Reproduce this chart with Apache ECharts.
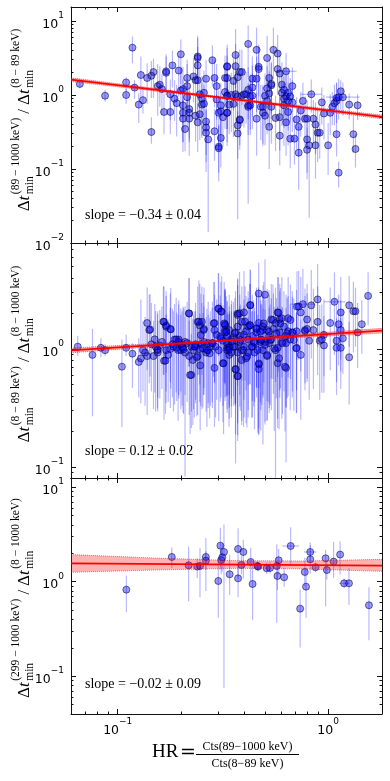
<!DOCTYPE html>
<html>
<head>
<meta charset="utf-8">
<script src="https://cdn.jsdelivr.net/npm/echarts@6/dist/echarts.min.js"></script>
<style>
html, body { margin: 0; padding: 0; background: #fff; }
#chart { width: 390px; height: 781px; }
</style>
</head>
<body>
<div id="chart"></div>
<script>
// all values are log10 of what is on the axes (both axes are logarithmic)
// rows: [log10 HR, log10 ratio, error down (dex), error up (dex), x error (dex)]
var panel1 = [
  [-1.18, 0.15, 0.06, 0.06], [-1.06, -0.01, 0.08, 0.08], [-0.96, 0.17, 0.12, 0.07], [-0.96, 0.00, 0.12, 0.08],
  [-0.93, 0.64, 0.21, 0.15], [-0.92, 0.10, 0.15, 0.10], [-0.90, -0.13, 0.25, 0.15], [-0.89, 0.27, 0.30, 0.25],
  [-0.88, -0.07, 0.18, 0.18], [-0.86, 0.23, 0.35, 0.20], [-0.84, -0.50, 0.16, 0.20], [-0.84, 0.26, 0.30, 0.20],
  [-0.83, 0.31, 0.35, 0.18], [-0.81, 0.12, 0.40, 0.30], [-0.80, 0.14, 0.30, 0.25], [-0.79, 0.08, 0.35, 0.20],
  [-0.78, -0.23, 0.30, 0.25], [-0.77, 0.30, 0.30, 0.25], [-0.77, 0.32, 0.25, 0.20], [-0.75, -0.23, 0.30, 0.25],
  [-0.74, 0.40, 0.30, 0.20], [-0.75, 0.01, 0.35, 0.20], [-0.73, -0.05, 0.30, 0.25], [-0.72, -0.11, 0.45, 0.25],
  [-0.71, 0.33, 0.35, 0.20], [-0.70, 0.55, 0.40, 0.20], [-0.69, -0.24, 0.40, 0.30], [-0.69, -0.32, 0.45, 0.25],
  [-0.69, -0.14, 0.50, 0.35], [-0.70, 0.06, 0.40, 0.30], [-0.69, 0.08, 0.35, 0.30], [-0.67, 0.12, 0.40, 0.30],
  [-0.67, 0.23, 0.50, 0.25], [-0.68, -0.46, 0.30, 0.25], [-0.67, -0.03, 0.40, 0.25], [-0.66, -0.19, 0.45, 0.30],
  [-0.66, -0.24, 0.35, 0.30], [-0.66, -0.32, 0.50, 0.30], [-0.64, 0.25, 0.35, 0.25], [-0.63, 0.20, 0.45, 0.25],
  [-0.62, 0.52, 0.30, 0.25], [-0.62, 0.50, 0.35, 0.30], [-0.62, 0.40, 0.45, 0.25], [-0.62, 0.20, 0.40, 0.30],
  [-0.63, -0.28, 0.35, 0.30], [-0.62, -0.37, 0.40, 0.25], [-0.61, -0.26, 0.35, 0.30], [-0.61, 0.01, 0.40, 0.35],
  [-0.60, -0.05, 0.50, 0.30], [-0.60, -0.13, 0.45, 0.30], [-0.59, -0.12, 0.40, 0.25], [-0.59, 0.03, 0.35, 0.30],
  [-0.58, 0.22, 0.30, 0.25], [-0.58, -0.36, 0.45, 0.30], [-0.58, -0.44, 0.60, 0.25], [-0.57, -0.60, 1.25, 0.25],
  [-0.58, -0.51, 0.40, 0.30], [-0.55, 0.47, 0.35, 0.20], [-0.54, -0.49, 0.40, 0.30], [-0.54, 0.23, 0.40, 0.25],
  [-0.53, 0.12, 0.45, 0.30], [-0.53, -0.06, 0.40, 0.30], [-0.52, -0.24, 0.50, 0.30], [-0.51, -0.22, 0.45, 0.25],
  [-0.51, -0.14, 0.40, 0.30], [-0.51, -0.58, 0.40, 0.30], [-0.52, -0.70, 0.35, 0.30], [-0.52, -0.72, 0.45, 0.30],
  [-0.50, -0.30, 0.40, 0.30], [-0.49, 0.04, 0.50, 0.30], [-0.49, 0.23, 0.40, 0.30], [-0.48, -0.01, 0.45, 0.30],
  [-0.48, 0.38, 0.40, 0.30], [-0.48, -0.24, 0.45, 0.35], [-0.47, -0.13, 0.40, 0.30],
  [-0.48, 0.39, 0.35, 0.25], [-0.48, 0.23, 0.40, 0.30], [-0.48, -0.01, 0.45, 0.30], [-0.48, -0.24, 0.40, 0.30],
  [-0.46, 0.00, 0.50, 0.30], [-0.45, -0.12, 0.45, 0.30], [-0.45, 0.19, 0.40, 0.30], [-0.44, 0.54, 0.45, 0.35],
  [-0.44, 0.01, 0.50, 0.30], [-0.44, 0.39, 0.45, 0.30], [-0.43, 0.24, 0.40, 0.30], [-0.43, -0.02, 0.45, 0.35],
  [-0.43, -0.52, 1.16, 0.30], [-0.43, -0.41, 0.45, 0.30], [-0.42, -0.34, 0.40, 0.30], [-0.42, 0.31, 0.40, 0.30],
  [-0.42, -0.33, 0.35, 0.30], [-0.41, 0.31, 0.45, 0.30], [-0.41, -0.01, 0.40, 0.30], [-0.40, 0.01, 0.45, 0.35],
  [-0.39, 0.01, 0.40, 0.30], [-0.38, 0.69, 0.45, 0.25], [-0.38, 0.07, 0.40, 0.30], [-0.38, -0.14, 0.40, 0.30],
  [-0.38, -0.16, 1.31, 0.30], [-0.37, -0.02, 0.45, 0.30], [-0.37, -0.14, 0.40, 0.35], [-0.36, -0.01, 0.45, 0.30],
  [-0.36, 0.10, 0.40, 0.30], [-0.36, 0.22, 0.40, 0.30], [-0.34, 0.22, 0.45, 0.30], [-0.34, 0.61, 0.50, 0.30],
  [-0.33, 0.38, 0.40, 0.30], [-0.34, -0.32, 0.50, 0.35], [-0.33, 0.35, 0.45, 0.30], [-0.32, -0.16, 0.45, 0.30],
  [-0.31, -0.16, 0.50, 0.30], [-0.31, -0.24, 0.45, 0.35], [-0.30, -0.28, 0.40, 0.30], [-0.30, -0.01, 0.40, 0.30],
  [-0.29, -0.08, 0.45, 0.30], [-0.29, 0.50, 0.45, 0.30], [-0.29, 0.09, 0.40, 0.30], [-0.28, -0.43, 0.57, 0.35],
  [-0.28, 0.23, 0.40, 0.30], [-0.28, 0.02, 0.45, 0.30], [-0.27, 0.15, 0.40, 0.30], [-0.27, 0.13, 0.45, 0.30],
  [-0.27, -0.16, 0.50, 0.30], [-0.26, 0.61, 0.40, 0.30], [-0.25, -0.31, 0.45, 0.30], [-0.24, 0.35, 0.35, 0.25],
  [-0.24, 0.56, 0.40, 0.25], [-0.23, 0.29, 0.45, 0.30], [-0.23, -0.55, 0.40, 0.35], [-0.23, -0.30, 0.45, 0.30],
  [-0.22, 0.14, 0.40, 0.30], [-0.22, 0.03, 0.45, 0.30], [-0.21, 0.07, 0.35, 0.30], [-0.21, -0.05, 0.40, 0.30],
  [-0.21, -0.14, 0.55, 0.30], [-0.20, 0.32, 0.30, 0.25, 0.05], [-0.20, -0.37, 0.45, 0.30], [-0.20, -0.02, 0.40, 0.30],
  [-0.19, -0.08, 0.40, 0.25], [-0.19, -0.23, 0.45, 0.30], [-0.19, 0.03, 0.35, 0.30], [-0.18, -0.59, 0.40, 0.30],
  [-0.18, -0.02, 0.35, 0.25], [-0.17, -0.10, 0.40, 0.30], [-0.17, 0.12, 0.35, 0.25], [-0.16, -0.59, 0.35, 0.30],
  [-0.15, -0.33, 0.40, 0.30], [-0.14, -0.78, 0.50, 0.35], [-0.14, -0.43, 0.40, 0.30], [-0.13, -0.21, 0.35, 0.25],
  [-0.12, -0.08, 0.30, 0.25], [-0.11, -0.32, 0.40, 0.30], [-0.10, -0.74, 0.40, 0.30], [-0.10, -0.32, 0.35, 0.25],
  [-0.10, -0.60, 0.45, 0.30], [-0.09, -0.68, 0.98, 0.35], [-0.08, 0.01, 0.25, 0.20, 0.05], [-0.07, -0.32, 0.35, 0.25],
  [-0.06, -0.40, 0.40, 0.30], [-0.06, -0.68, 0.45, 0.30], [-0.05, -0.51, 0.40, 0.30], [-0.04, -0.51, 0.35, 0.25],
  [-0.03, -0.10, 0.30, 0.20], [-0.02, -0.25, 0.35, 0.25], [0.00, -0.68, 0.40, 0.30], [0.01, -0.24, 0.30, 0.25],
  [0.02, -0.16, 0.25, 0.20], [0.03, -0.11, 0.30, 0.25], [0.04, -0.08, 0.30, 0.25], [0.04, -0.04, 0.25, 0.20],
  [0.04, -0.53, 0.30, 0.25], [0.05, -0.03, 0.30, 0.25], [0.06, 0.05, 0.25, 0.15], [0.05, -1.05, 0.20, 0.15],
  [0.07, -0.03, 0.25, 0.20, 0.08], [0.10, -0.13, 0.20, 0.15], [0.12, -0.53, 0.25, 0.25], [0.13, -0.73, 0.25, 0.20],
  [0.14, -0.14, 0.20, 0.15]
];

var panel2 = [
  [-1.19, 0.02, 0.08, 0.09], [-1.12, -0.05, 0.52, 0.22], [-1.08, 0.01, 0.08, 0.08], [-1.06, -0.01, 0.05, 0.05],
  [-0.98, -0.15, 0.51, 0.23], [-0.96, 0.01, 0.07, 0.11], [-0.93, -0.04, 0.29, 0.09], [-0.90, -0.11, 0.30, 0.20],
  [-0.89, -0.08, 0.38, 0.50], [-0.88, -0.01, 0.35, 0.25], [-0.87, -0.03, 0.45, 0.30], [-0.86, 0.22, 0.40, 0.30],
  [-0.86, -0.06, 0.50, 0.25], [-0.85, 0.16, 0.45, 0.30], [-0.84, 0.04, 0.40, 0.35], [-0.83, -0.06, 0.45, 0.30],
  [-0.82, 0.02, 0.55, 0.30], [-0.81, -0.01, 0.40, 0.25], [-0.81, -0.03, 0.50, 0.35], [-0.80, 0.03, 0.45, 0.30],
  [-0.79, 0.06, 0.40, 0.30], [-0.78, 0.23, 0.45, 0.30], [-0.78, -0.10, 0.50, 0.30], [-0.77, 0.20, 0.40, 0.25],
  [-0.77, -0.01, 0.45, 0.30], [-0.76, -0.05, 0.40, 0.30], [-0.75, 0.17, 0.45, 0.30], [-0.75, 0.00, 0.50, 0.35],
  [-0.74, 0.04, 0.45, 0.30], [-0.73, 0.08, 0.55, 0.30], [-0.72, 0.01, 0.45, 0.30], [-0.71, 0.08, 0.50, 0.30],
  [-0.71, 0.06, 0.45, 0.35], [-0.70, 0.04, 0.40, 0.30], [-0.70, -0.01, 0.50, 0.30], [-0.69, 0.01, 0.55, 0.35],
  [-0.68, -0.03, 1.05, 0.30], [-0.68, 0.06, 0.45, 0.30], [-0.67, 0.05, 0.50, 0.35], [-0.66, 0.30, 0.45, 0.30],
  [-0.66, -0.06, 0.50, 0.30], [-0.65, -0.22, 0.45, 0.35], [-0.65, 0.02, 0.55, 0.30], [-0.64, -0.01, 0.50, 0.30],
  [-0.63, 0.02, 0.45, 0.30], [-0.63, 0.04, 0.50, 0.35], [-0.62, 0.23, 0.45, 0.30], [-0.62, -0.06, 0.50, 0.30],
  [-0.61, 0.20, 0.50, 0.35], [-0.61, 0.00, 0.45, 0.30], [-0.60, 0.04, 0.55, 0.35], [-0.60, 0.23, 0.45, 0.30],
  [-0.59, 0.17, 0.50, 0.35], [-0.59, 0.06, 0.45, 0.30], [-0.58, -0.03, 0.50, 0.30], [-0.57, 0.05, 0.55, 0.35],
  [-0.57, -0.01, 0.45, 0.30], [-0.56, 0.02, 0.50, 0.30], [-0.55, 0.05, 0.55, 0.35], [-0.54, 0.22, 0.50, 0.35],
  [-0.54, 0.16, 0.45, 0.30], [-0.54, -0.16, 0.50, 0.35], [-0.53, 0.12, 0.55, 0.30], [-0.52, 0.34, 0.40, 0.30],
  [-0.52, -0.01, 0.60, 0.35], [-0.51, 0.09, 0.50, 0.30], [-0.51, 0.32, 0.45, 0.25], [-0.50, 0.07, 0.55, 0.30],
  [-0.50, -0.12, 0.50, 0.35], [-0.49, 0.21, 0.50, 0.30], [-0.49, 0.16, 0.60, 0.35], [-0.48, 0.01, 0.55, 0.30],
  [-0.48, 0.11, 0.50, 0.30], [-0.47, -0.05, 0.45, 0.35], [-0.47, 0.02, 0.50, 0.30],
  [-0.49, 0.20, 0.50, 0.30], [-0.49, 0.14, 0.55, 0.35], [-0.48, -0.01, 0.50, 0.30], [-0.48, 0.05, 0.45, 0.35],
  [-0.47, 0.16, 0.55, 0.30], [-0.47, 0.01, 0.60, 0.35], [-0.46, 0.08, 0.50, 0.30], [-0.46, -0.03, 0.55, 0.35],
  [-0.45, 0.10, 0.50, 0.30], [-0.44, 0.14, 0.60, 0.35], [-0.44, -0.17, 0.80, 0.35], [-0.44, 0.02, 0.50, 0.30],
  [-0.43, 0.30, 0.45, 0.30], [-0.43, -0.23, 0.55, 0.35], [-0.43, -0.03, 0.60, 0.30], [-0.43, 0.19, 0.50, 0.35],
  [-0.42, 0.06, 0.55, 0.30], [-0.42, 0.11, 0.50, 0.35], [-0.41, -0.01, 0.60, 0.30], [-0.41, 0.23, 0.50, 0.30],
  [-0.40, 0.31, 0.45, 0.35], [-0.40, 0.12, 0.55, 0.30], [-0.40, 0.02, 0.60, 0.35], [-0.39, 0.15, 0.50, 0.30],
  [-0.39, -0.08, 0.55, 0.35], [-0.38, 0.19, 0.50, 0.30], [-0.38, 0.08, 0.60, 0.35], [-0.38, -0.03, 0.55, 0.30],
  [-0.37, 0.20, 0.50, 0.35], [-0.37, 0.37, 0.45, 0.30], [-0.36, 0.02, 0.60, 0.30], [-0.36, 0.11, 0.55, 0.35],
  [-0.35, 0.05, 0.50, 0.30], [-0.35, -0.03, 0.65, 0.35], [-0.34, 0.14, 0.55, 0.30], [-0.34, 0.17, 0.50, 0.35],
  [-0.33, 0.47, 0.50, 0.26], [-0.33, 0.22, 0.55, 0.30], [-0.33, -0.13, 0.60, 0.35], [-0.33, -0.17, 0.55, 0.30],
  [-0.32, 0.06, 0.75, 0.35], [-0.32, 0.08, 0.60, 0.30], [-0.31, -0.01, 0.80, 0.35], [-0.31, 0.16, 0.55, 0.30],
  [-0.31, 0.19, 0.60, 0.35], [-0.30, 0.46, 0.50, 0.30], [-0.30, 0.06, 0.70, 0.35], [-0.29, -0.06, 0.55, 0.30],
  [-0.29, 0.16, 0.60, 0.35], [-0.28, 0.05, 0.55, 0.30], [-0.28, 0.11, 0.65, 0.35], [-0.27, 0.25, 0.50, 0.30],
  [-0.27, 0.08, 0.60, 0.35], [-0.26, 0.17, 0.55, 0.30], [-0.25, -0.01, 1.08, 0.35], [-0.25, 0.22, 0.50, 0.30],
  [-0.24, 0.01, 0.60, 0.35], [-0.24, 0.31, 0.55, 0.30], [-0.24, -0.12, 0.55, 0.35], [-0.23, 0.25, 0.60, 0.30],
  [-0.23, 0.14, 0.55, 0.35], [-0.22, 0.06, 0.65, 0.30], [-0.22, 0.26, 0.50, 0.35], [-0.21, 0.19, 0.55, 0.30],
  [-0.20, -0.16, 0.80, 0.30], [-0.20, 0.11, 0.60, 0.35], [-0.20, 0.05, 0.55, 0.30], [-0.19, 0.26, 0.50, 0.35],
  [-0.19, 0.15, 0.55, 0.30], [-0.18, 0.08, 0.60, 0.30], [-0.17, 0.14, 0.55, 0.35], [-0.17, 0.14, 0.50, 0.30],
  [-0.15, 0.01, 0.55, 0.30], [-0.15, 0.15, 0.50, 0.35], [-0.14, 0.36, 0.45, 0.30], [-0.13, 0.31, 0.50, 0.30],
  [-0.13, -0.05, 0.55, 0.30], [-0.12, 0.38, 0.40, 0.30, 0.06], [-0.11, 0.15, 0.50, 0.30], [-0.11, 0.16, 0.45, 0.35],
  [-0.10, 0.25, 0.50, 0.30], [-0.10, 0.17, 0.45, 0.30], [-0.09, 0.07, 0.50, 0.30], [-0.08, 0.37, 0.45, 0.30],
  [-0.07, 0.16, 0.50, 0.35], [-0.05, 0.42, 0.40, 0.30], [-0.05, 0.23, 0.45, 0.30], [-0.04, 0.07, 0.50, 0.30],
  [-0.03, 0.08, 0.45, 0.30], [-0.02, 0.03, 0.40, 0.25], [-0.02, 0.12, 0.35, 0.30], [0.01, 0.22, 0.40, 0.30],
  [0.03, 0.40, 0.45, 0.25, 0.05], [0.04, 0.07, 0.35, 0.30], [0.04, 0.01, 0.40, 0.25], [0.05, 0.21, 0.35, 0.25],
  [0.06, 0.01, 0.35, 0.25], [0.06, 0.31, 0.40, 0.30], [0.06, 0.16, 0.35, 0.25], [0.07, 0.09, 0.30, 0.25],
  [0.10, 0.37, 0.35, 0.25], [0.10, -0.07, 0.40, 0.30], [0.12, 0.32, 0.35, 0.25], [0.13, 0.32, 0.30, 0.20],
  [0.14, 0.14, 0.30, 0.25], [0.16, 0.21, 0.25, 0.20], [0.19, 0.45, 0.25, 0.20],
  // denser core, read from a closer look at 0.1 < HR < 0.7
  [-0.846, 0.166, 0.40, 0.30], [-0.824, 0.082, 0.45, 0.30], [-0.811, -0.003, 0.50, 0.30], [-0.783, 0.231, 0.45, 0.30],
  [-0.770, 0.189, 0.55, 0.30], [-0.773, -0.099, 0.45, 0.30], [-0.748, 0.166, 0.50, 0.35], [-0.735, 0.020, 0.55, 0.30],
  [-0.722, 0.082, 0.45, 0.35], [-0.713, -0.009, 0.60, 0.30], [-0.694, 0.020, 0.50, 0.30], [-0.687, -0.003, 0.55, 0.35],
  [-0.662, 0.302, 0.45, 0.30], [-0.656, -0.221, 0.50, 0.30], [-0.643, -0.093, 0.55, 0.35], [-0.636, 0.020, 0.60, 0.30],
  [-0.624, -0.071, 0.50, 0.30], [-0.614, 0.231, 0.45, 0.35], [-0.608, -0.139, 0.55, 0.30], [-0.605, 0.118, 0.60, 0.35],
  [-0.595, 0.005, 0.50, 0.30], [-0.592, 0.161, 0.55, 0.30], [-0.576, -0.009, 0.65, 0.35], [-0.563, -0.037, 0.55, 0.30],
  [-0.551, 0.048, 0.50, 0.30], [-0.544, 0.217, 0.45, 0.35], [-0.535, 0.020, 0.60, 0.30], [-0.522, 0.344, 0.40, 0.30],
  [-0.513, 0.104, 0.55, 0.35], [-0.506, 0.316, 0.45, 0.30], [-0.497, -0.122, 0.60, 0.30], [-0.494, 0.217, 0.50, 0.35],
  [-0.484, 0.147, 0.55, 0.30], [-0.471, -0.009, 0.65, 0.30], [-0.459, 0.062, 0.55, 0.35], [-0.449, 0.020, 0.50, 0.30],
  [-0.443, 0.133, 0.60, 0.30], [-0.440, -0.173, 0.55, 0.35], [-0.430, 0.288, 0.45, 0.30], [-0.430, -0.229, 0.50, 0.30],
  [-0.421, 0.302, 0.50, 0.35], [-0.417, 0.076, 0.60, 0.30], [-0.411, -0.093, 0.55, 0.30], [-0.402, -0.009, 0.65, 0.35],
  [-0.395, 0.231, 0.50, 0.30], [-0.386, -0.065, 0.60, 0.30], [-0.373, 0.203, 0.50, 0.35], [-0.370, 0.373, 0.45, 0.30],
  [-0.363, 0.020, 0.60, 0.30], [-0.354, 0.062, 0.55, 0.35], [-0.341, 0.175, 0.50, 0.30], [-0.335, -0.009, 0.70, 0.30],
  [-0.329, -0.122, 0.55, 0.35], [-0.322, 0.147, 0.60, 0.30], [-0.316, 0.076, 0.55, 0.30], [-0.306, 0.217, 0.50, 0.35],
  [-0.300, 0.034, 0.65, 0.30], [-0.290, -0.051, 0.55, 0.30], [-0.281, 0.147, 0.60, 0.35], [-0.275, 0.076, 0.55, 0.30],
  [-0.262, 0.246, 0.50, 0.30], [-0.256, 0.005, 0.70, 0.35], [-0.246, 0.133, 0.55, 0.30], [-0.236, 0.308, 0.50, 0.30],
  [-0.233, -0.079, 0.60, 0.35], [-0.227, 0.217, 0.55, 0.30], [-0.217, 0.048, 0.60, 0.30], [-0.205, -0.150, 0.55, 0.35],
  [-0.195, 0.133, 0.55, 0.30], [-0.179, 0.246, 0.50, 0.30], [-0.163, 0.076, 0.60, 0.35], [-0.148, 0.359, 0.45, 0.30],
  [-0.151, 0.005, 0.55, 0.30]
];

var panel3 = [
  [-0.959, -0.084, 0.24, 0.15], [-0.743, 0.262, 0.12, 0.10], [-0.663, 0.174, 0.38, 0.20], [-0.622, 0.160, 0.12, 0.09],
  [-0.609, 0.167, 0.33, 0.19], [-0.581, 0.262, 0.36, 0.20], [-0.581, 0.223, 0.10, 0.10], [-0.522, 0.008, 0.39, 0.24],
  [-0.512, 0.382, 0.25, 0.19], [-0.508, 0.230, 0.15, 0.10], [-0.503, 0.258, 0.15, 0.15], [-0.495, 0.315, 1.44, 0.29],
  [-0.468, 0.079, 0.22, 0.21], [-0.428, 0.347, 0.31, 0.22], [-0.428, 0.036, 0.20, 0.15], [-0.412, 0.177, 0.10, 0.10],
  [-0.403, 0.315, 0.28, 0.13], [-0.368, 0.209, 0.20, 0.15], [-0.359, -0.024, 0.38, 0.20], [-0.336, 0.167, 0.05, 0.05],
  [-0.333, 0.160, 0.05, 0.05], [-0.292, 0.142, 0.06, 0.06], [-0.276, 0.146, 0.06, 0.06], [-0.244, 0.167, 0.60, 0.23],
  [-0.241, 0.061, 0.15, 0.12], [-0.235, 0.227, 0.15, 0.12], [-0.209, 0.047, 0.10, 0.10], [-0.178, 0.378, 0.20, 0.20, 0.04],
  [-0.111, 0.103, 0.15, 0.15], [-0.105, -0.052, 0.33, 0.20], [-0.085, 0.315, 0.10, 0.10, 0.03], [-0.085, 0.237, 0.15, 0.15],
  [-0.133, -0.285, 0.41, 0.20], [-0.060, 0.153, 0.05, 0.05], [-0.012, 0.248, 0.51, 0.09], [-0.006, 0.124, 0.10, 0.10],
  [0.026, 0.213, 0.17, 0.21], [0.057, 0.287, 0.21, 0.14], [0.076, -0.017, 0.05, 0.05, 0.025], [0.099, -0.017, 0.23, 0.16],
  [0.194, -0.249, 0.37, 0.19]
];

// fitted power laws and their confidence bands (log10 units)
var fitLine1 = [[-1.222, 0.207], [0.256, -0.297]];
var fitLine2 = [[-1.222, -0.012], [0.256, 0.155]];
var fitLine3 = [[-1.222, 0.195], [0.256, 0.170]];
var bandX12 = [-1.222, -0.5, 0.256];
var band1Upper = [0.232, -0.027, -0.272];
var band1Lower = [0.182, -0.051, -0.322];
var band2Upper = [0.008, 0.078, 0.175];
var band2Lower = [-0.032, 0.062, 0.135];
var bandX3 = [-1.222, -0.825, -0.428, -0.111, 0.256];
var band3Upper = [0.287, 0.251, 0.223, 0.220, 0.237];
var band3Lower = [0.100, 0.124, 0.142, 0.135, 0.110];

var slopeTexts = ['slope = \u22120.34 \u00b1 0.04', 'slope = 0.12 \u00b1 0.02', 'slope = \u22120.02 \u00b1 0.09'];
var yNumerators = ['(89 \u2212 1000 keV)', '(8 \u2212 89 keV)', '(299 \u2212 1000 keV)'];
var yDenominators = ['(8 \u2212 89 keV)', '(8 \u2212 1000 keV)', '(8 \u2212 1000 keV)'];

var X_MIN = -1.222, X_MAX = 0.256;

var panels = [
  { top: 7, height: 236, yMin: -2, yMax: 1.189, pts: panel1, fit: fitLine1, bx: bandX12, bu: band1Upper, bl: band1Lower, slopeY: 217, titleMid: 120 },
  { top: 243, height: 235, yMin: -1.093, yMax: 0.898, pts: panel2, fit: fitLine2, bx: bandX12, bu: band2Upper, bl: band2Lower, slopeY: 453, titleMid: 354 },
  { top: 478, height: 236, yMin: -1.40, yMax: 1.098, pts: panel3, fit: fitLine3, bx: bandX3, bu: band3Upper, bl: band3Lower, slopeY: 686, titleMid: 598 }
];

var measureCtx = document.createElement('canvas').getContext('2d');
function textW(s, font) { measureCtx.font = font; return measureCtx.measureText(s).width; }
function txt(s, x, y, font) {
  return { type: 'text', x: x, y: y, silent: true,
    style: { text: s, font: font, fill: '#000', verticalAlign: 'middle', align: 'left' } };
}
function ratioTitle(sup1, sup2, cx, mid) {
  var MAIN = '17px "Liberation Serif"', MAIN_I = 'italic 17px "Liberation Serif"', SCR = '11.5px "Liberation Serif"';
  var parts = [], x = 0;
  function dt() {
    parts.push(txt('\u0394', x, 0, MAIN)); x += textW('\u0394', MAIN);
    parts.push(txt('t', x, 0, MAIN_I)); x += textW('t', MAIN_I) + 1.5;
  }
  function scripts(sup) {
    parts.push(txt(sup, x, -8.5, SCR));
    parts.push(txt('min', x, 5, SCR));
    x += Math.max(textW(sup, SCR), textW('min', SCR));
  }
  dt(); scripts(sup1);
  x += 4; parts.push(txt('/', x, 0, MAIN)); x += textW('/', MAIN) + 4;
  dt(); scripts(sup2);
  return { type: 'group', x: cx, y: mid + x / 2, rotation: Math.PI / 2, silent: true, children: parts };
}

function majorVals(lo, hi) {
  var out = [];
  for (var d = Math.ceil(lo - 1e-9); d <= hi + 1e-9; d++) out.push(d);
  return out;
}
function minorVals(lo, hi) {
  var out = [];
  for (var d = Math.floor(lo) - 1; d <= Math.ceil(hi); d++) {
    for (var k = 2; k <= 9; k++) {
      var v = d + Math.log10(k);
      if (v > lo && v < hi) out.push(v);
    }
  }
  return out;
}
function logLabel(v) {
  var n = Math.round(v);
  return '{b|10}{s|' + (n < 0 ? '\u2212' + (-n) : n) + '}';
}
var labelRich = {
  b: { fontFamily: 'DejaVu Sans', fontSize: 12.5, lineHeight: 20, verticalAlign: 'bottom', color: '#000' },
  s: { fontFamily: 'DejaVu Sans', fontSize: 9, lineHeight: 14, verticalAlign: 'top', color: '#000' }
};

function axis(kind, gi, pos, lo, hi, vals, len, major, labels) {
  return {
    type: 'value', gridIndex: gi, position: pos, min: lo, max: hi,
    axisLine: { show: major, onZero: false, lineStyle: { color: '#111', width: 1 } },
    axisTick: { show: true, inside: true, length: len, customValues: vals, lineStyle: { color: '#111', width: 1 } },
    axisLabel: labels ? { show: true, customValues: vals, formatter: logLabel, rich: labelRich,
      margin: kind === 'x' ? 3 : 7 } : { show: false },
    splitLine: { show: false }
  };
}

var grids = [], xAxes = [], yAxes = [], series = [], graphics = [];

panels.forEach(function (p, i) {
  grids.push({ left: 71, right: 8, top: p.top, height: p.height, outerBoundsMode: 'none' });
  var xMaj = majorVals(X_MIN, X_MAX), xMin = minorVals(X_MIN, X_MAX);
  var yMaj = majorVals(p.yMin, p.yMax), yMin = minorVals(p.yMin, p.yMax);
  xAxes.push(axis('x', i, 'bottom', X_MIN, X_MAX, xMaj, 5, true, i === 2));
  xAxes.push(axis('x', i, 'top', X_MIN, X_MAX, xMaj, 5, true, false));
  xAxes.push(axis('x', i, 'bottom', X_MIN, X_MAX, xMin, 2.5, false, false));
  xAxes.push(axis('x', i, 'top', X_MIN, X_MAX, xMin, 2.5, false, false));
  yAxes.push(axis('y', i, 'left', p.yMin, p.yMax, yMaj, 5, true, true));
  yAxes.push(axis('y', i, 'right', p.yMin, p.yMax, yMaj, 5, true, false));
  yAxes.push(axis('y', i, 'left', p.yMin, p.yMax, yMin, 2.5, false, false));
  yAxes.push(axis('y', i, 'right', p.yMin, p.yMax, yMin, 2.5, false, false));

  var ax = i * 4;
  var lo = p.yMin, hi = p.yMax;
  series.push({
    type: 'custom', xAxisIndex: ax, yAxisIndex: ax, clip: true, silent: true, z: 1,
    data: p.pts.map(function (r) { return [r[0], r[1], r[2], r[3], r[4] || 0]; }),
    encode: { x: 0, y: 1 },
    renderItem: function (params, api) {
      var x = api.value(0), y = api.value(1), xe = api.value(4);
      var a = api.coord([x, Math.max(lo, y - api.value(2))]);
      var b = api.coord([x, Math.min(hi, y + api.value(3))]);
      var st = { stroke: 'rgba(0,0,255,0.28)', lineWidth: 1.2 };
      var ch = [{ type: 'line', shape: { x1: a[0], y1: a[1], x2: b[0], y2: b[1] }, style: st }];
      if (xe > 0) {
        var c = api.coord([x - xe, y]), d = api.coord([x + xe, y]);
        ch.push({ type: 'line', shape: { x1: c[0], y1: c[1], x2: d[0], y2: d[1] }, style: st });
      }
      return { type: 'group', children: ch };
    }
  });
  series.push({
    type: 'scatter', xAxisIndex: ax, yAxisIndex: ax, z: 3, silent: true,
    symbol: 'circle', symbolSize: 7,
    itemStyle: { color: 'rgba(0,0,255,0.4)', borderColor: 'rgba(0,0,40,0.6)', borderWidth: 0.9, opacity: 1 },
    data: p.pts.map(function (r) { return [r[0], r[1]]; })
  });
  var bx = p.bx, bu = p.bu, bl = p.bl;
  series.push({
    type: 'custom', xAxisIndex: ax, yAxisIndex: ax, clip: true, silent: true, z: 4,
    data: [[bx[0], bu[0]]], encode: { x: 0, y: 1 },
    renderItem: function (params, api) {
      var pts = [];
      for (var k = 0; k < bx.length; k++) pts.push(api.coord([bx[k], bu[k]]));
      for (var k2 = bx.length - 1; k2 >= 0; k2--) pts.push(api.coord([bx[k2], bl[k2]]));
      return { type: 'polygon', shape: { points: pts }, style: { fill: 'rgba(255,0,0,0.3)' } };
    }
  });
  [bu, bl].forEach(function (edge) {
    series.push({
      type: 'line', xAxisIndex: ax, yAxisIndex: ax, z: 4, silent: true, symbol: 'none',
      lineStyle: { color: 'rgba(255,0,0,0.55)', width: 1, type: 'dotted' },
      data: bx.map(function (x, k) { return [x, edge[k]]; })
    });
  });
  series.push({
    type: 'line', xAxisIndex: ax, yAxisIndex: ax, z: 5, silent: true, symbol: 'none',
    lineStyle: { color: '#ff0000', width: 1.8 },
    data: p.fit
  });

  graphics.push({
    type: 'text', left: 85, top: p.slopeY - 9, silent: true,
    style: { text: slopeTexts[i], font: '14px "Liberation Serif"', fill: '#000' }
  });
  graphics.push(ratioTitle(yNumerators[i], yDenominators[i], 24.5, p.titleMid));
});

// x axis title: HR = Cts(89-1000 keV) / Cts(8-89 keV)
graphics.push({ type: 'text', x: 152, y: 752, silent: true,
  style: { text: 'HR', font: '19px "Liberation Serif"', fill: '#000', verticalAlign: 'middle' } });
graphics.push({ type: 'text', x: 180, y: 753, silent: true,
  style: { text: '=', font: '19px "DejaVu Serif"', fill: '#000', verticalAlign: 'middle' } });
graphics.push({ type: 'text', x: 247.5, y: 746.5, silent: true,
  style: { text: 'Cts(89\u22121000 keV)', font: '12px "Liberation Serif"', fill: '#000', align: 'center', verticalAlign: 'middle' } });
graphics.push({ type: 'line', silent: true, shape: { x1: 196, y1: 754.5, x2: 299, y2: 754.5 }, style: { stroke: '#000', lineWidth: 1 } });
graphics.push({ type: 'text', x: 247.5, y: 763.5, silent: true,
  style: { text: 'Cts(8\u221289 keV)', font: '12px "Liberation Serif"', fill: '#000', align: 'center', verticalAlign: 'middle' } });

var myChart = echarts.init(document.getElementById('chart'));
var option = {
  animation: false,
  backgroundColor: '#fff',
  grid: grids,
  xAxis: xAxes,
  yAxis: yAxes,
  series: series,
  graphic: graphics
};
myChart.setOption(option);
</script>
</body>
</html>
